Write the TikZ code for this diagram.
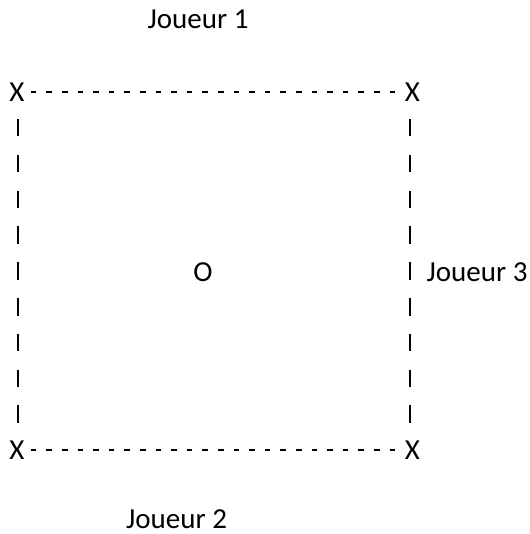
\documentclass[tikz,border=0pt]{standalone}
\usepackage{fontspec}
\setmainfont{Carlito}
\begin{document}
\begin{tikzpicture}[x=1pt,y=-1pt,
  lbl/.style={inner sep=0pt, font=\fontsize{29}{35}\selectfont},
  hdash/.style={line width=2pt, dash pattern=on 5.6pt off 10pt},
  vbar/.style={line width=2pt, dash pattern=on 17.5pt off 18.3pt}]
\useasboundingbox (0,0) rectangle (529,534);
\node[lbl] (tl) at (17,92) {X};
\node[lbl] (tr) at (412.5,92) {X};
\node[lbl] (bl) at (17,450) {X};
\node[lbl] (br) at (412.5,450) {X};
\node[lbl] (ball) at (203,272) {O};
\node[lbl, anchor=base west] (j1) at (147.5,28.3) {Joueur 1};
\node[lbl, anchor=base west] (j2) at (126,528) {Joueur 2};
\node[lbl, anchor=base west] (j3) at (426.5,281) {Joueur 3};
\draw[hdash, shorten <=13.7pt, shorten >=17.4pt] (tl.center) -- (tr.center);
\draw[hdash, shorten <=13.7pt, shorten >=17.4pt] (bl.center) -- (br.center);
\draw[vbar, shorten <=27pt, shorten >=27pt] ([xshift=1pt]tl.center) -- ([xshift=1pt]bl.center);
\draw[vbar, shorten <=27pt, shorten >=27pt] ([xshift=-2.5pt]tr.center) -- ([xshift=-2.5pt]br.center);
\end{tikzpicture}
\end{document}
